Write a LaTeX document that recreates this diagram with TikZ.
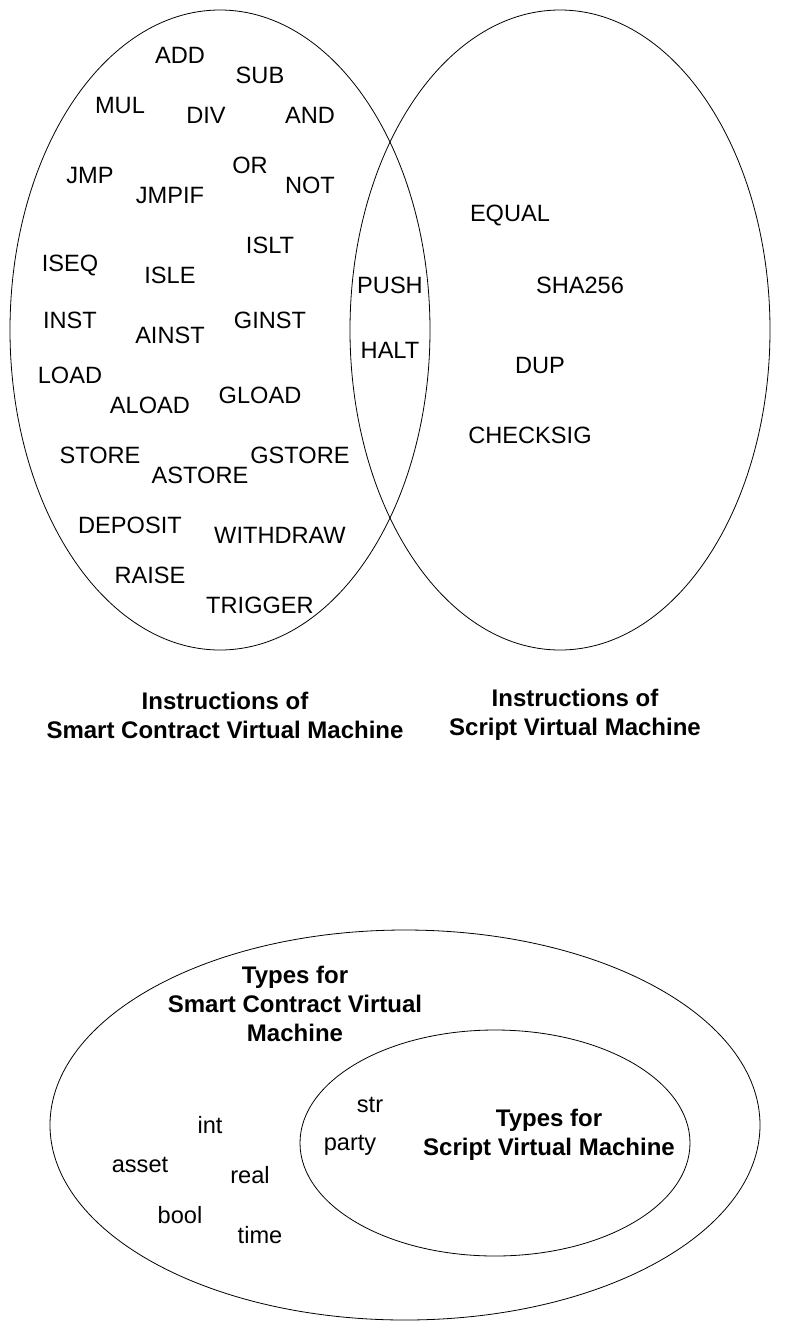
\documentclass[tikz,border=0pt]{standalone}
\usepackage{fontspec}
\setmainfont{Liberation Sans}
\usetikzlibrary{shapes.geometric}
\tikzset{
  venn/.style={draw=black, line width=0.8pt, ellipse, inner sep=0pt},
  op/.style={font=\fontsize{23.6}{28}\selectfont, inner sep=0pt},
  title/.style={font=\fontsize{24}{29}\selectfont\bfseries, align=center, inner sep=0pt},
}
\begin{document}
\begin{tikzpicture}[x=1pt,y=-1pt]
\useasboundingbox (0,0) rectangle (801,1331);
% ellipses
\node[venn, minimum width=420pt, minimum height=640pt] (smartvm) at (220,330) {};
\node[venn, minimum width=420pt, minimum height=640pt] (scriptvm) at (560,330) {};
\node[venn, minimum width=710pt, minimum height=390pt] (smarttypes) at (405,1125) {};
\node[venn, minimum width=390pt, minimum height=226pt] (scripttypes) at (495,1143) {};
% smart contract VM instructions
\node[op] (add) at (180,55) {ADD};
\node[op] (sub) at (260,75) {SUB};
\node[op] (mul) at (120,105) {MUL};
\node[op] (div) at (206,115) {DIV};
\node[op] (and) at (310,115) {AND};
\node[op] (jmp) at (90,175) {JMP};
\node[op] (or) at (250,165) {OR};
\node[op] (not) at (310,185) {NOT};
\node[op] (jmpif) at (170,195) {JMPIF};
\node[op] (islt) at (270,245) {ISLT};
\node[op] (iseq) at (70,265) {ISEQ};
\node[op] (isle) at (170,275) {ISLE};
\node[op] (inst) at (70,320) {INST};
\node[op] (ainst) at (170,335) {AINST};
\node[op] (ginst) at (270,320) {GINST};
\node[op] (load) at (70,375) {LOAD};
\node[op] (aload) at (150,405) {ALOAD};
\node[op] (gload) at (260,395) {GLOAD};
\node[op] (store) at (100,455) {STORE};
\node[op] (astore) at (200,475) {ASTORE};
\node[op] (gstore) at (300,455) {GSTORE};
\node[op] (deposit) at (130,525) {DEPOSIT};
\node[op] (withdraw) at (280,535) {WITHDRAW};
\node[op] (raise) at (150,575) {RAISE};
\node[op] (trigger) at (260,605) {TRIGGER};
% shared
\node[op] (push) at (390,285) {PUSH};
\node[op] (halt) at (390,350) {HALT};
% script VM
\node[op] (equal) at (510,215) {EQUAL};
\node[op] (sha) at (580,285) {SHA256};
\node[op] (dup) at (540,365) {DUP};
\node[op] (checksig) at (530,435) {CHECKSIG};
% titles
\node[title] (t1) at (225,715) {Instructions of\\Smart Contract Virtual Machine};
\node[title] (t2) at (575,715) {Instructions of\\Script Virtual Machine};
\node[title] (t3) at (295,1004) {Types for\\Smart Contract Virtual\\Machine};
\node[title] (t4) at (549,1135) {Types for\\Script Virtual Machine};
% types
\node[op] (int) at (210,1125) {int};
\node[op] (asset) at (140,1165) {asset};
\node[op] (real) at (250,1175) {real};
\node[op] (bool) at (180,1215) {bool};
\node[op] (time) at (260,1235) {time};
\node[op] (str) at (370,1105) {str};
\node[op] (party) at (350,1145) {party};
\end{tikzpicture}
\end{document}
